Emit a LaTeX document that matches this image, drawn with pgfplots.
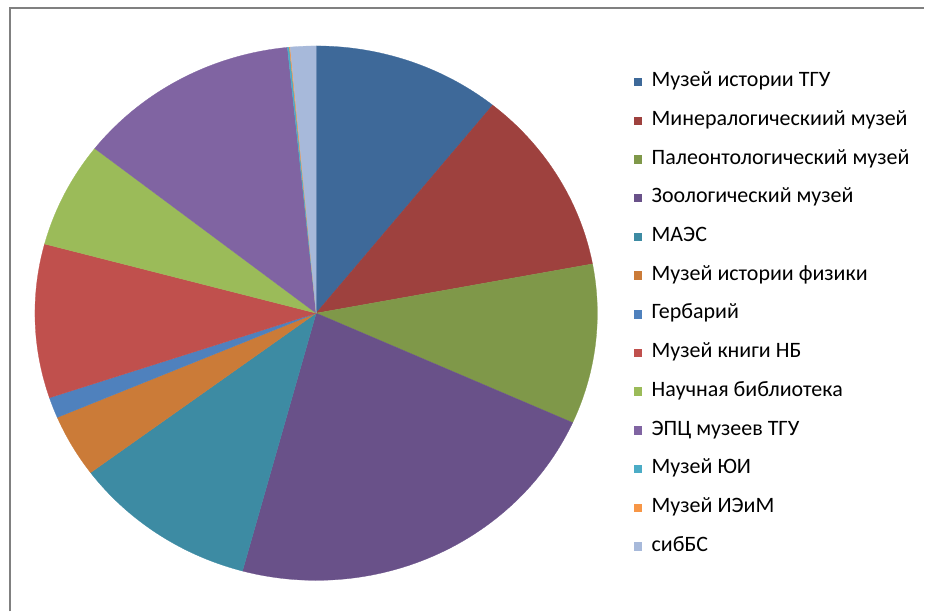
\documentclass[border=0pt]{standalone}
\usepackage{fontspec}
\setmainfont{Carlito}
\usepackage{pgfplots}
\pgfplotsset{compat=1.18}
\definecolor{c1}{HTML}{3E6999}
\definecolor{c2}{HTML}{9E413E}
\definecolor{c3}{HTML}{7F9849}
\definecolor{c4}{HTML}{695189}
\definecolor{c5}{HTML}{3D8BA3}
\definecolor{c6}{HTML}{CB7B38}
\definecolor{c7}{HTML}{4F81BD}
\definecolor{c8}{HTML}{C0504D}
\definecolor{c9}{HTML}{9BBB59}
\definecolor{c10}{HTML}{8064A2}
\definecolor{c11}{HTML}{4BACC6}
\definecolor{c12}{HTML}{F79646}
\definecolor{c13}{HTML}{A7B9DA}
\definecolor{framegray}{HTML}{808080}
% slice: start (percent), share (percent), colour
\newcommand{\pieslice}[3]{%
  \addplot[fill=#3, draw=#3, line width=0.2pt, domain=#1*3.6:(#1+#2)*3.6, samples=60]
    ({316.5+281.5*sin(x)},{313.5-267.5*cos(x)}) -- (316.5,313.5) -- cycle;
}
\begin{document}
\begin{tikzpicture}
\begin{axis}[
  scale only axis,
  width=693.75pt, height=459pt,
  xmin=0, xmax=925, ymin=0, ymax=612,
  y dir=reverse,
  hide axis,
  clip=false,
  legend style={
    at={(axis cs:630,68.5)}, anchor=north west,
    draw=none, fill=none,
    font=\fontsize{16.5}{19}\selectfont,
    nodes={inner sep=0pt, text height=11.5pt, text depth=4pt, anchor=west},
    row sep=13.56pt,
    /tikz/column 1/.style={column sep=8pt},
  },
  legend cell align=left,
  legend image code/.code={\fill[#1] (0pt,-2.8pt) rectangle (5.4pt,2.8pt);},
]
\path (0,0) rectangle (925,612);
\pieslice{0}{10.8}{c1}
\addlegendentry{Музей истории ТГУ}
\pieslice{10.8}{11.25}{c2}
\addlegendentry{Минералогическиий музей}
\pieslice{22.05}{9.67}{c3}
\addlegendentry{Палеонтологический музей}
\pieslice{31.72}{22.5}{c4}
\addlegendentry{Зоологический музей}
\pieslice{54.22}{10.6}{c5}
\addlegendentry{МАЭС}
\pieslice{64.82}{3.8}{c6}
\addlegendentry{Музей истории физики}
\pieslice{68.62}{1.25}{c7}
\addlegendentry{Гербарий}
\pieslice{69.87}{9.3}{c8}
\addlegendentry{Музей книги НБ}
\pieslice{79.17}{6.4}{c9}
\addlegendentry{Научная библиотека}
\pieslice{85.57}{12.8}{c10}
\addlegendentry{ЭПЦ музеев ТГУ}
\pieslice{98.37}{0.11}{c11}
\addlegendentry{Музей ЮИ}
\pieslice{98.48}{0.05}{c12}
\addlegendentry{Музей ИЭиМ}
\pieslice{98.53}{1.47}{c13}
\addlegendentry{сибБС}
\draw[framegray, line width=1.5pt] (10,612) -- (10,8) -- (925,8);
\end{axis}
\end{tikzpicture}
\end{document}
